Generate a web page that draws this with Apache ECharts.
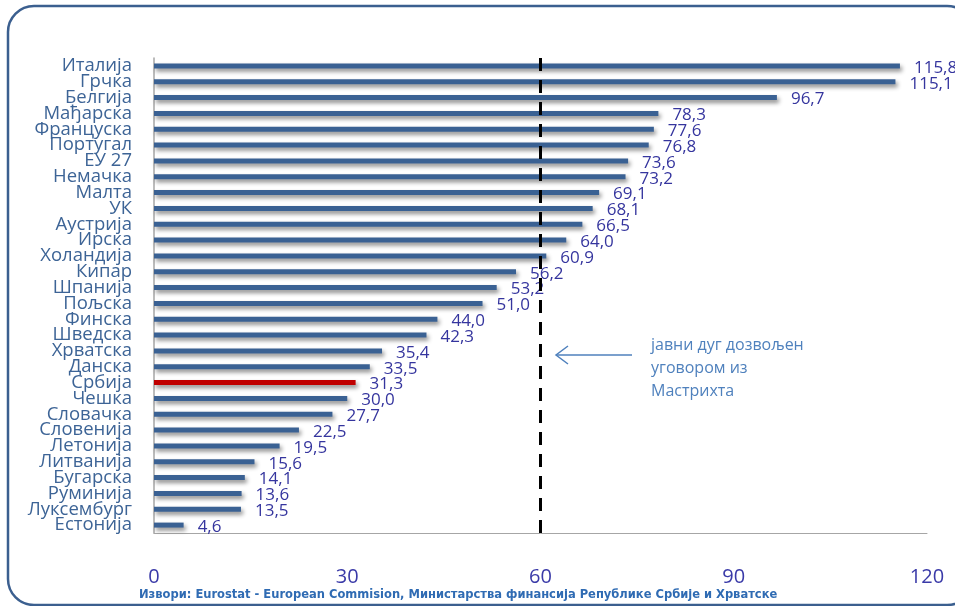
<!DOCTYPE html>
<html>
<head>
<meta charset="utf-8">
<script src="https://cdn.jsdelivr.net/npm/echarts@6/dist/echarts.min.js"></script>
<style>html,body{margin:0;padding:0;background:#fff}#c{width:955px;height:606px}</style>
</head>
<body>
<div id="c"></div>
<script>
const categories = ['Италија','Грчка','Белгија','Мађарска','Француска','Португал','ЕУ 27','Немачка','Малта','УК','Аустрија','Ирска','Холандија','Кипар','Шпанија','Пољска','Финска','Шведска','Хрватска','Данска','Србија','Чешка','Словачка','Словенија','Летонија','Литванија','Бугарска','Руминија','Луксембург','Естонија'];
const values = [115.8,115.1,96.7,78.3,77.6,76.8,73.6,73.2,69.1,68.1,66.5,64.0,60.9,56.2,53.2,51.0,44.0,42.3,35.4,33.5,31.3,30.0,27.7,22.5,19.5,15.6,14.1,13.6,13.5,4.6];
const highlight = 'Србија';
const xTicks = [0,30,60,90,120];
const limitValue = 60;
const noteLines = ['јавни дуг дозвољен','уговором из','Мастрихта'];
const sourceText = 'Извори: Eurostat - European Commision, Министарства финансија Републике Србије и Хрватске';

const chart = echarts.init(document.getElementById('c'));
chart.setOption({
  animation: false,
  grid: {left: 154, right: 28, top: 58, bottom: 73, containLabel: false},
  xAxis: {
    type: 'value', min: xTicks[0], max: xTicks[xTicks.length-1], interval: 30,
    axisLine: {show: true, lineStyle: {color: '#a6a6a6', width: 1}},
    axisTick: {show: false},
    splitLine: {show: false},
    axisLabel: {margin: 34, fontSize: 20, color: '#3a3aa8', fontFamily: 'Open Sans'}
  },
  yAxis: {
    type: 'category', data: categories, inverse: true,
    axisLine: {show: true, lineStyle: {color: '#a6a6a6', width: 1.5}},
    axisTick: {show: false},
    axisLabel: {interval: 0, margin: 22, fontSize: 18.5, color: '#3d6496', fontFamily: 'Open Sans', lineHeight: 16}
  },
  series: [{
    type: 'bar',
    data: values.map((v, i) => ({
      value: v,
      itemStyle: {color: categories[i] === highlight ? '#c00000' : '#3a6193'}
    })),
    barWidth: 5,
    itemStyle: {shadowColor: 'rgba(0,0,0,0.45)', shadowBlur: 4, shadowOffsetX: 2, shadowOffsetY: 3},
    label: {
      show: true, position: 'right', distance: 14, offset: [0, 2],
      fontSize: 17, color: '#35359e', fontFamily: 'Open Sans',
      formatter: p => p.value.toFixed(1).replace('.', ',')
    },
    markLine: {
      silent: true, symbol: 'none',
      label: {show: false},
      lineStyle: {color: '#000', width: 3, type: [13, 9]},
      data: [{xAxis: limitValue}]
    }
  }],
  graphic: [
    {type: 'rect', shape: {x: 8, y: 6, width: 965, height: 599, r: 26}, style: {fill: 'none', stroke: '#3b5f8f', lineWidth: 2.5}, silent: true},
    {type: 'line', shape: {x1: 632, y1: 355, x2: 556, y2: 355}, style: {stroke: '#4f81bd', lineWidth: 1.5}},
    {type: 'polyline', shape: {points: [[568, 346], [556, 355], [568, 364]]}, style: {stroke: '#4f81bd', lineWidth: 1.5, fill: 'none'}},
    {type: 'text', left: 651, top: 334, style: {text: noteLines.join('\n'), fill: '#4f81bd', font: '16px "Open Sans"', lineHeight: 23}},
    {type: 'text', left: 139, top: 589, style: {text: sourceText, fill: '#2f6bb3', font: 'bold 11.5px "DejaVu Sans"'}}
  ]
});
</script>
</body>
</html>
